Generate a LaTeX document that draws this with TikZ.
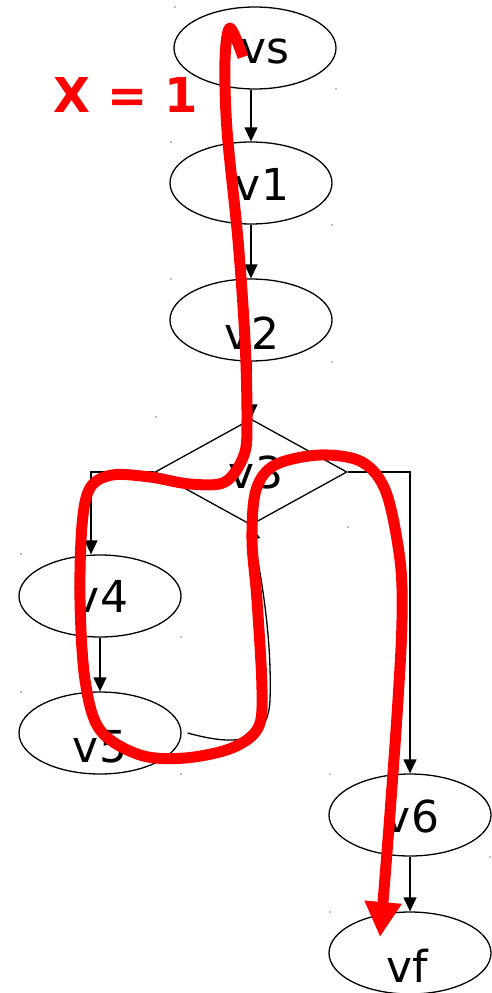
\documentclass[tikz,border=0pt]{standalone}
\usepackage{fontspec}
\newfontfamily\dv{DejaVu Sans}
\usetikzlibrary{shapes.geometric,arrows.meta,calc}
\tikzset{
  stateshape/.style={draw, ellipse, line width=1.3pt, minimum width=162pt, minimum height=82pt, inner sep=0pt},
  decshape/.style={draw, diamond, line width=1.3pt, minimum width=192pt, minimum height=106pt, inner sep=0pt},
  lbl/.style={anchor=base, inner sep=0pt, font=\dv\fontsize{44}{50}\selectfont},
  edge/.style={line width=1.3pt, -{Triangle[length=14pt,width=13pt]}},
  pathred/.style={draw=red, line width=11pt, line join=round, -{Triangle[length=35pt,width=35pt]}},
  dotmark/.style={fill=gray, draw=none, circle, inner sep=0pt, minimum size=1.6pt}
}
\begin{document}
\begin{tikzpicture}[x=1pt,y=-1pt]
\useasboundingbox (0,0) rectangle (491,993);
% shapes
\node[stateshape] (vs) at (255,48) {};
\node[stateshape] (v1) at (251,183) {};
\node[stateshape] (v2) at (251,320) {};
\node[decshape]   (v3) at (251,472) {};
\node[stateshape] (v4) at (100,596) {};
\node[stateshape] (v5) at (100,733) {};
\node[stateshape] (v6) at (410,815) {};
\node[stateshape] (vf) at (410,953) {};
% labels
\node[lbl] (tvs) at (265,63) {vs};
\node[lbl] (tv1) at (262,200) {v1};
\node[lbl] (tv2) at (252,349) {v2};
\node[lbl] (tv3) at (256,488) {v3};
\node[lbl] (tv4) at (101,612) {v4};
\node[lbl] (tv5) at (100,762) {v5};
\node[lbl] (tv6) at (412,832) {v6};
\node[lbl] (tvf) at (407,982) {vf};
% bounding dots
\foreach \px/\py [count=\i] in {175/7,336/89,171/142,332/225,171/279,332/362,156/417,348/527,21/554,181/637,21/692,181/774,330/774,490/857,330/912}
  \node[dotmark] (d\i) at (\px,\py) {};
% edges
\coordinate (vsout) at (v1.north |- vs.south);
\draw[edge] (vsout) -- (v1.north);
\draw[edge] (v1.south) -- (v2.north);
\draw[edge] (v2.south) -- (v3.north);
\coordinate (v4in) at ($(v4.north)+(-9,0)$);
\draw[edge] (v3.west) -| (v4in);
\draw[edge] (v3.east) -| (v6.north);
\draw[edge] (v4.south) -- (v5.north);
\draw[edge] (v6.south) -- (vf.north);
\coordinate (v5out) at ($(v5.east)+(6,0)$);
\draw[edge] (v5out) .. controls (228,744) and (268,748) .. (270,700)
  .. controls (272,640) and (262,580) .. (v3.south);
% red path
\node[anchor=base, inner sep=0pt, text=red, font=\dv\bfseries\fontsize{48}{54}\selectfont] (x1) at (125.5,112) {X = 1};
\draw[pathred] plot[smooth, tension=0.55] coordinates {
 (243,57) (230,28) (225,60) (227,130) (238,240) (245,340) (247,420) (244,455)
 (225,482) (190,484) (150,477) (112,475) (90,488) (82,525) (80,600) (85,680)
 (100,730) (140,755) (185,758) (232,748) (258,728) (262,690) (257,600) (252,540)
 (256,490) (275,465) (320,455) (362,462) (386,492) (400,560) (402,620) (398,700)
 (391,800) (384,890) (380,937)};
\end{tikzpicture}
\end{document}
